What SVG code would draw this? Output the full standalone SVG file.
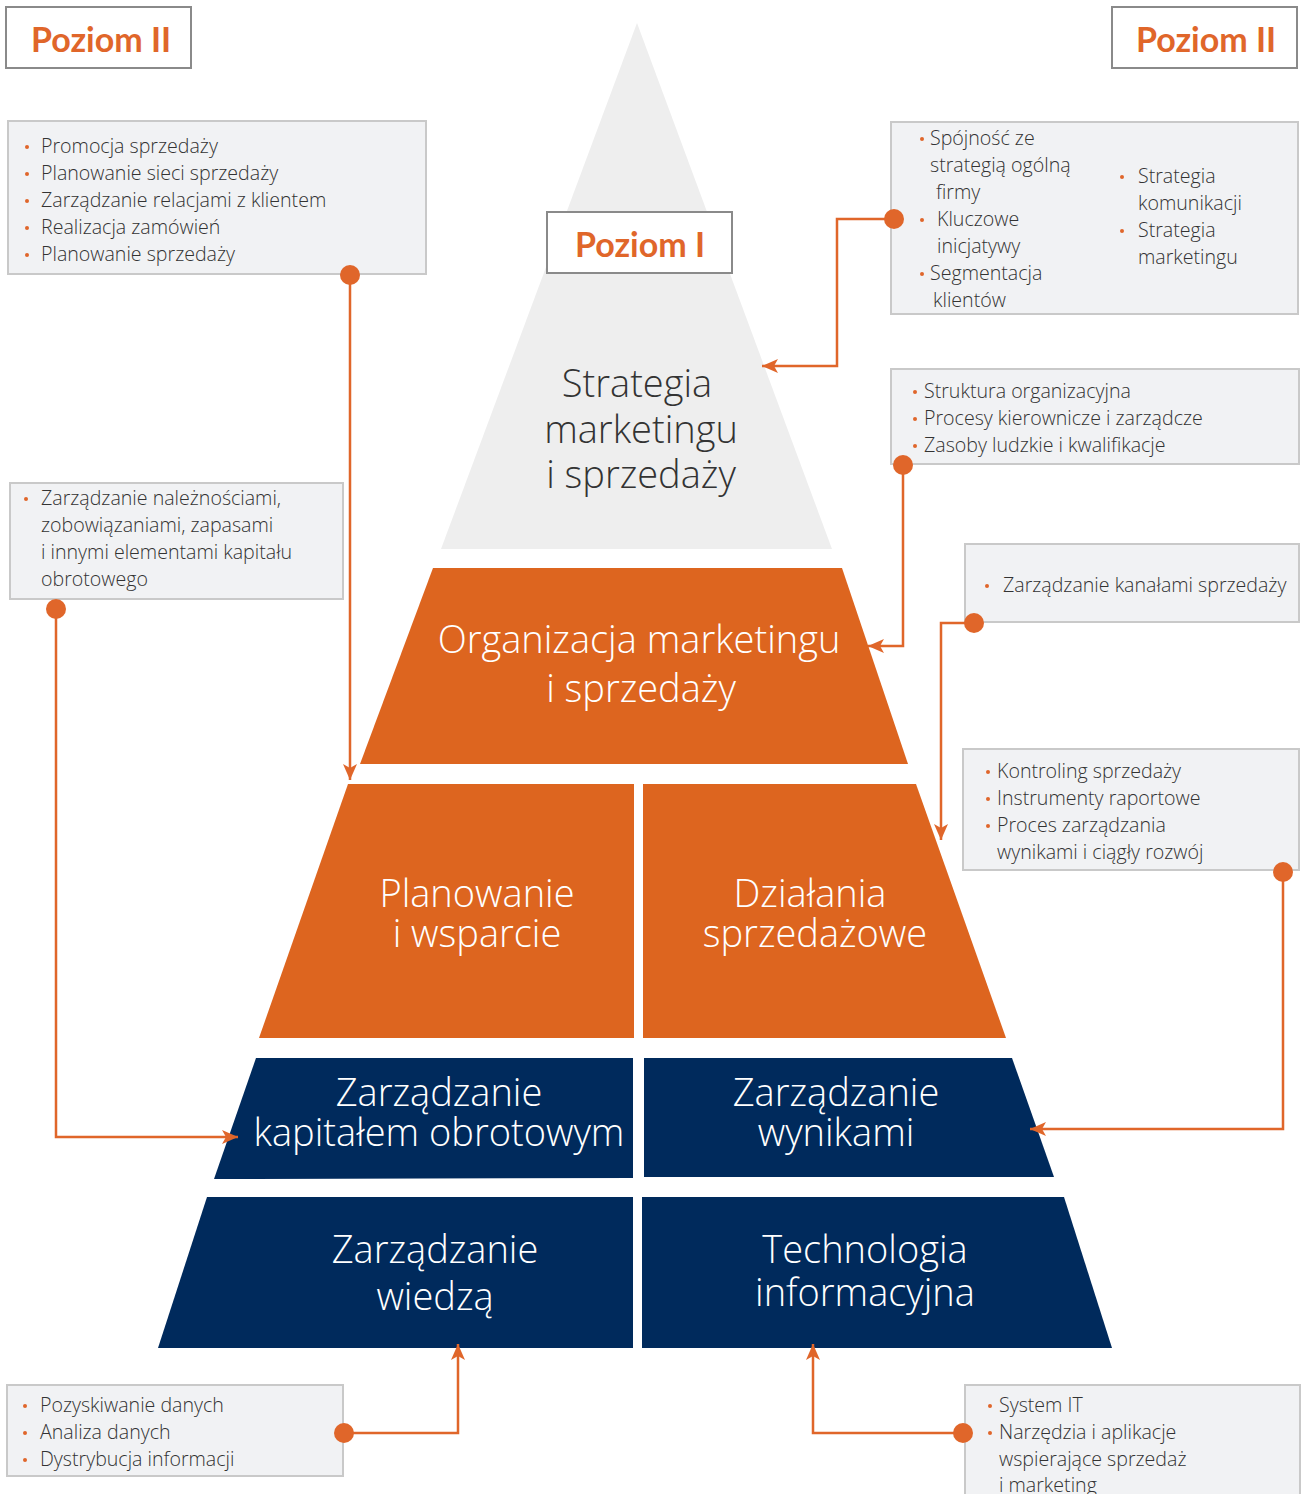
<svg xmlns="http://www.w3.org/2000/svg" width="1309" height="1494" viewBox="0 0 1309 1494">
<defs>
<marker id="arr" markerUnits="userSpaceOnUse" markerWidth="18" markerHeight="14" refX="16" refY="7" orient="auto">
<path d="M0,0 L16,7 L0,14 L4,7 z" fill="#e0662a"/>
</marker>
<style>
.lvl{fill:#fff;stroke:#8a8a8a;stroke-width:2}
.lvlt{font-family:Lato,"Open Sans",sans-serif;font-weight:700;font-size:34px;fill:#e0662a}
.box{fill:#f1f2f4;stroke:#c9c9c9;stroke-width:2}
.bt{font-family:"Open Sans","Liberation Sans",sans-serif;font-weight:300;font-size:19.6px;fill:#333}
.bul{fill:#e0662a}
.gray{fill:#eeeeee}
.org{fill:#dd651f}
.navy{fill:#002a5c}
.pt{font-family:"Open Sans","Liberation Sans",sans-serif;font-weight:300;font-size:38px;text-anchor:middle;fill:#fff}
.pd{fill:#333}
.con{fill:none;stroke:#e0662a;stroke-width:2.5}
.dot{fill:#e0662a}
</style>
</defs>

<g id="pyramid-top">
<polygon class="gray" points="637,23 832,549 441,549"/>
<text class="pt pd"><tspan x="637" y="397">Strategia</tspan><tspan x="641" y="443">marketingu</tspan><tspan x="641" y="488">i sprzedaży</tspan></text>
</g>
<g id="poziom-1">
<rect class="lvl" x="547" y="212" width="185" height="61"/>
<text class="lvlt" x="640" y="257" text-anchor="middle">Poziom I</text>
</g>
<g id="organizacja">
<polygon class="org" points="433,568 842,568 908,764 360,764"/>
<text class="pt"><tspan x="639" y="653">Organizacja marketingu</tspan><tspan x="641" y="702">i sprzedaży</tspan></text>
</g>
<g id="planowanie">
<polygon class="org" points="348,784 634,784 634,1038 259,1038"/>
<text class="pt"><tspan x="477" y="907">Planowanie</tspan><tspan x="477" y="947">i wsparcie</tspan></text>
</g>
<g id="dzialania">
<polygon class="org" points="643,784 916,784 1006,1038 643,1038"/>
<text class="pt"><tspan x="810" y="907">Działania</tspan><tspan x="815" y="947">sprzedażowe</tspan></text>
</g>
<g id="kapital">
<polygon class="navy" points="256,1058 633,1058 633,1178 214,1179"/>
<text class="pt"><tspan x="439" y="1106">Zarządzanie</tspan><tspan x="439" y="1146">kapitałem obrotowym</tspan></text>
</g>
<g id="wyniki">
<polygon class="navy" points="644,1058 1012,1058 1054,1177 644,1177"/>
<text class="pt"><tspan x="836" y="1106">Zarządzanie</tspan><tspan x="836" y="1146">wynikami</tspan></text>
</g>
<g id="wiedza">
<polygon class="navy" points="207,1197 633,1197 633,1348 158,1348"/>
<text class="pt"><tspan x="435" y="1263">Zarządzanie</tspan><tspan x="435" y="1310">wiedzą</tspan></text>
</g>
<g id="technologia">
<polygon class="navy" points="642,1197 1064,1197 1112,1348 642,1348"/>
<text class="pt"><tspan x="865" y="1263">Technologia</tspan><tspan x="865" y="1306">informacyjna</tspan></text>
</g>

<g id="poziom-2-left">
<rect class="lvl" x="6" y="7" width="185" height="61"/>
<text class="lvlt" x="101" y="52" text-anchor="middle">Poziom II</text>
</g>
<g id="poziom-2-right">
<rect class="lvl" x="1112" y="7" width="185" height="61"/>
<text class="lvlt" x="1206" y="52" text-anchor="middle">Poziom II</text>
</g>

<g id="box-sprzedaz">
<rect class="box" x="8" y="121" width="418" height="153"/>
<g class="bul"><circle cx="27" cy="147" r="2"/><circle cx="27" cy="174" r="2"/><circle cx="27" cy="201" r="2"/><circle cx="27" cy="228" r="2"/><circle cx="27" cy="255" r="2"/></g>
<text class="bt"><tspan x="41" y="153">Promocja sprzedaży</tspan><tspan x="41" y="180">Planowanie sieci sprzedaży</tspan><tspan x="41" y="207">Zarządzanie relacjami z klientem</tspan><tspan x="41" y="234">Realizacja zamówień</tspan><tspan x="41" y="261">Planowanie sprzedaży</tspan></text>
</g>

<g id="box-strategia">
<rect class="box" x="891" y="122" width="407" height="192"/>
<g class="bul"><circle cx="922" cy="139" r="2"/><circle cx="922" cy="220" r="2"/><circle cx="922" cy="274" r="2"/><circle cx="1122" cy="177" r="2"/><circle cx="1122" cy="231" r="2"/></g>
<text class="bt"><tspan x="930" y="145">Spójność ze</tspan><tspan x="930" y="172">strategią ogólną</tspan><tspan x="936" y="199">firmy</tspan><tspan x="937" y="226">Kluczowe</tspan><tspan x="937" y="253">inicjatywy</tspan><tspan x="930" y="280">Segmentacja</tspan><tspan x="933" y="307">klientów</tspan></text>
<text class="bt"><tspan x="1138" y="183">Strategia</tspan><tspan x="1138" y="210">komunikacji</tspan><tspan x="1138" y="237">Strategia</tspan><tspan x="1138" y="264">marketingu</tspan></text>
</g>

<g id="box-struktura">
<rect class="box" x="891" y="369" width="408" height="95"/>
<g class="bul"><circle cx="915" cy="392" r="2"/><circle cx="915" cy="419" r="2"/><circle cx="915" cy="446" r="2"/></g>
<text class="bt"><tspan x="924" y="398">Struktura organizacyjna</tspan><tspan x="924" y="425">Procesy kierownicze i zarządcze</tspan><tspan x="924" y="452">Zasoby ludzkie i kwalifikacje</tspan></text>
</g>

<g id="box-kanaly">
<rect class="box" x="965" y="544" width="334" height="78"/>
<circle class="bul" cx="987" cy="586" r="2"/>
<text class="bt" x="1003" y="592">Zarządzanie kanałami sprzedaży</text>
</g>

<g id="box-kontroling">
<rect class="box" x="963" y="749" width="336" height="121"/>
<g class="bul"><circle cx="988" cy="772" r="2"/><circle cx="988" cy="799" r="2"/><circle cx="988" cy="826" r="2"/></g>
<text class="bt"><tspan x="997" y="778">Kontroling sprzedaży</tspan><tspan x="997" y="805">Instrumenty raportowe</tspan><tspan x="997" y="832">Proces zarządzania</tspan><tspan x="997" y="859">wynikami i ciągły rozwój</tspan></text>
</g>

<g id="box-kapital">
<rect class="box" x="10" y="483" width="333" height="116"/>
<circle class="bul" cx="26" cy="499" r="2"/>
<text class="bt"><tspan x="41" y="505">Zarządzanie należnościami,</tspan><tspan x="41" y="532">zobowiązaniami, zapasami</tspan><tspan x="41" y="559">i innymi elementami kapitału</tspan><tspan x="41" y="586">obrotowego</tspan></text>
</g>

<g id="box-dane">
<rect class="box" x="7" y="1385" width="336" height="91"/>
<g class="bul"><circle cx="25" cy="1406" r="2"/><circle cx="25" cy="1433" r="2"/><circle cx="25" cy="1460" r="2"/></g>
<text class="bt"><tspan x="40" y="1412">Pozyskiwanie danych</tspan><tspan x="40" y="1439">Analiza danych</tspan><tspan x="40" y="1466">Dystrybucja informacji</tspan></text>
</g>

<g id="box-it">
<rect class="box" x="965" y="1385" width="335" height="120"/>
<g class="bul"><circle cx="990" cy="1406" r="2"/><circle cx="990" cy="1433" r="2"/></g>
<text class="bt"><tspan x="999" y="1412">System IT</tspan><tspan x="999" y="1439">Narzędzia i aplikacje</tspan><tspan x="999" y="1466">wspierające sprzedaż</tspan><tspan x="999" y="1492">i marketing</tspan></text>
</g>

<g id="connectors">
<path class="con" d="M350,275 V780" marker-end="url(#arr)"/>
<path class="con" d="M894,219 H837 V366 H762" marker-end="url(#arr)"/>
<path class="con" d="M903,465 V646 H868" marker-end="url(#arr)"/>
<path class="con" d="M974,623 H941 V840" marker-end="url(#arr)"/>
<path class="con" d="M1283,872 V1129 H1030" marker-end="url(#arr)"/>
<path class="con" d="M56,609 V1137 H238" marker-end="url(#arr)"/>
<path class="con" d="M344,1433 H458 V1344" marker-end="url(#arr)"/>
<path class="con" d="M963,1433 H813 V1344" marker-end="url(#arr)"/>
<g class="dot">
<circle cx="350" cy="275" r="10"/>
<circle cx="894" cy="219" r="10"/>
<circle cx="903" cy="465" r="10"/>
<circle cx="974" cy="623" r="10"/>
<circle cx="1283" cy="872" r="10"/>
<circle cx="56" cy="609" r="10"/>
<circle cx="344" cy="1433" r="10"/>
<circle cx="963" cy="1433" r="10"/>
</g>
</g>
</svg>
